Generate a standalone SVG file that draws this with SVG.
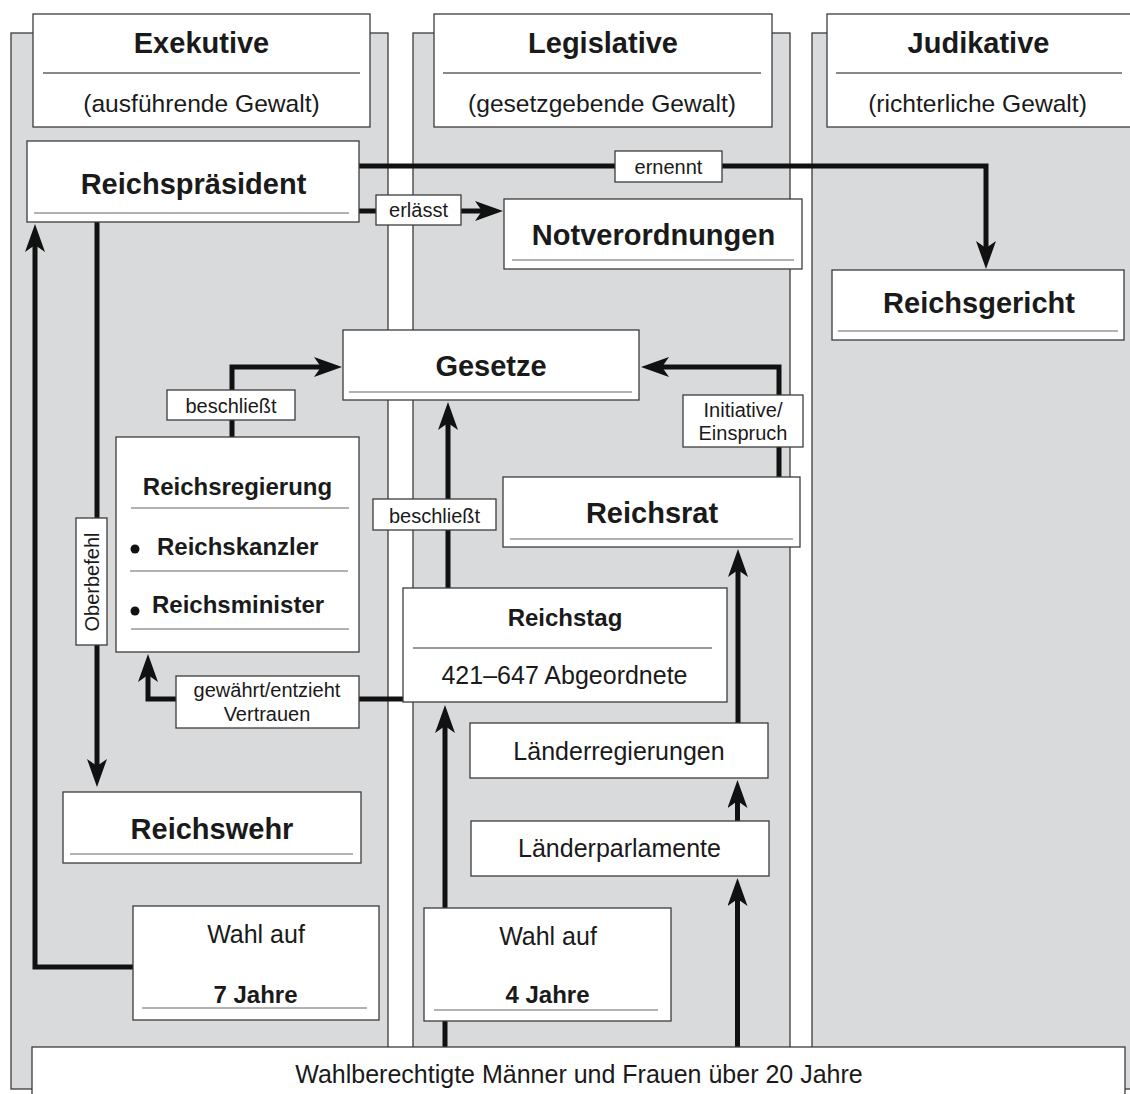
<svg xmlns="http://www.w3.org/2000/svg" width="1130" height="1094" viewBox="0 0 1130 1094">
<style>
.panel{fill:#d9dadc;stroke:#3c3c3c;stroke-width:1.3}
.box{fill:#fff;stroke:#3c3c3c;stroke-width:1.3}
.hl{stroke:#111;stroke-width:1}
.ul{stroke:#666;stroke-width:1.2}
.conn{fill:none;stroke:#111;stroke-width:5;stroke-linejoin:miter}
text{font-family:"Liberation Sans",Arial,sans-serif;fill:#1a1a1a}
.b29{font-size:29px;font-weight:bold;text-anchor:middle}
.b24{font-size:24px;font-weight:bold}
.r25{font-size:25px;text-anchor:middle}
.r24{font-size:24.6px;text-anchor:middle}
.s20{font-size:20px;text-anchor:middle}
.m{text-anchor:middle}
</style>
<defs>
<marker id="ah" viewBox="0 0 28 20" refX="7" refY="10" markerWidth="28" markerHeight="20" markerUnits="userSpaceOnUse" orient="auto">
<path d="M0,0 L28,10 L0,20 L7,10 Z" fill="#111"/>
</marker>
</defs>
<rect width="1130" height="1094" fill="#fff"/>
<g id="panels">
<rect class="panel" x="11" y="33" width="377" height="1056"/>
<rect class="panel" x="413" y="33" width="377" height="1056"/>
<rect class="panel" x="812" y="33" width="340" height="1056"/>
</g>
<g id="headers">
<g id="h-exekutive">
<rect class="box" x="33" y="14" width="337" height="113"/>
<line class="hl" x1="43" y1="73" x2="360" y2="73"/>
<text class="b29" x="201.5" y="53">Exekutive</text>
<text class="r24" x="201.5" y="112">(ausführende Gewalt)</text>
</g>
<g id="h-legislative">
<rect class="box" x="434" y="14" width="338" height="113"/>
<line class="hl" x1="443" y1="73" x2="761" y2="73"/>
<text class="b29" x="603" y="53">Legislative</text>
<text class="r24" x="602" y="112">(gesetzgebende Gewalt)</text>
</g>
<g id="h-judikative">
<rect class="box" x="827" y="14" width="310" height="113"/>
<line class="hl" x1="836" y1="73" x2="1122" y2="73"/>
<text class="b29" x="978.5" y="53">Judikative</text>
<text class="r24" x="977.5" y="112">(richterliche Gewalt)</text>
</g>
</g>
<g id="connectors">
<path class="conn" d="M359,166 H986 V248" marker-end="url(#ah)"/>
<path class="conn" d="M359,211 H482" marker-end="url(#ah)"/>
<path class="conn" d="M97,222 V766" marker-end="url(#ah)"/>
<path class="conn" d="M133,967 H35 V245" marker-end="url(#ah)"/>
<path class="conn" d="M232,437 V367 H321" marker-end="url(#ah)"/>
<path class="conn" d="M448,588 V423" marker-end="url(#ah)"/>
<path class="conn" d="M779,477 V367 H662" marker-end="url(#ah)"/>
<path class="conn" d="M403,699 H148 V675" marker-end="url(#ah)"/>
<path class="conn" d="M738,723 V570" marker-end="url(#ah)"/>
<path class="conn" d="M737.5,821 V801" marker-end="url(#ah)"/>
<path class="conn" d="M737.5,1047 V899" marker-end="url(#ah)"/>
<path class="conn" d="M445,1047 V726" marker-end="url(#ah)"/>
<g id="lbl-ernennt">
<rect class="box" x="615" y="151" width="107" height="31"/>
<text class="s20" x="668.5" y="174">ernennt</text>
</g>
<g id="lbl-erlaesst">
<rect class="box" x="376" y="195" width="85" height="30"/>
<text class="s20" x="418.5" y="217">erlässt</text>
</g>
<g id="lbl-oberbefehl">
<rect class="box" x="76" y="518" width="31" height="127"/>
<text class="s20" x="99" y="582" transform="rotate(-90 99 582)">Oberbefehl</text>
</g>
<g id="lbl-beschliesst1">
<rect class="box" x="167" y="390" width="128" height="30"/>
<text class="s20" x="231" y="413">beschließt</text>
</g>
<g id="lbl-beschliesst2">
<rect class="box" x="373" y="499" width="123" height="31"/>
<text class="s20" x="434.5" y="523">beschließt</text>
</g>
<g id="lbl-initiative">
<rect class="box" x="683" y="395" width="120" height="52"/>
<text class="s20" x="743" y="417">Initiative/</text>
<text class="s20" x="743" y="440">Einspruch</text>
</g>
<g id="lbl-vertrauen">
<rect class="box" x="176" y="676" width="183" height="52"/>
<text class="s20" x="267" y="697">gewährt/entzieht</text>
<text class="s20" x="267" y="721">Vertrauen</text>
</g>
</g>
<g id="reichspraesident">
<rect class="box" x="27" y="141" width="332" height="81"/>
<line class="ul" x1="34" y1="213" x2="349" y2="213"/>
<text class="b29" x="193.5" y="194">Reichspräsident</text>
</g>
<g id="notverordnungen">
<rect class="box" x="504" y="199" width="298" height="70"/>
<line class="ul" x1="512" y1="260" x2="794" y2="260"/>
<text class="b29" x="653.5" y="245">Notverordnungen</text>
</g>
<g id="reichsgericht">
<rect class="box" x="832" y="270" width="292" height="70"/>
<line class="ul" x1="838" y1="331" x2="1118" y2="331"/>
<text class="b29" x="979" y="313">Reichsgericht</text>
</g>
<g id="gesetze">
<rect class="box" x="343" y="330" width="296" height="70"/>
<line class="ul" x1="349" y1="392" x2="632" y2="392"/>
<text class="b29" x="491" y="376">Gesetze</text>
</g>
<g id="reichsregierung">
<rect class="box" x="116" y="437" width="243" height="215"/>
<text class="b24 m" x="237.5" y="495">Reichsregierung</text>
<line class="ul" x1="131" y1="508" x2="349" y2="508"/>
<circle cx="135" cy="549" r="4.5" fill="#111"/>
<text class="b24" x="157" y="555">Reichskanzler</text>
<line class="ul" x1="130" y1="571" x2="348" y2="571"/>
<circle cx="135" cy="611" r="4.5" fill="#111"/>
<text class="b24" x="152" y="613">Reichsminister</text>
<line class="ul" x1="131" y1="629" x2="349" y2="629"/>
</g>
<g id="reichsrat">
<rect class="box" x="503" y="477" width="297" height="70"/>
<line class="ul" x1="510" y1="539" x2="793" y2="539"/>
<text class="b29" x="652" y="523">Reichsrat</text>
</g>
<g id="reichstag">
<rect class="box" x="403" y="588" width="324" height="114"/>
<text class="b24 m" x="565" y="626">Reichstag</text>
<line class="ul" x1="413" y1="648" x2="712" y2="648" style="stroke:#333"/>
<text class="r25" x="564.5" y="684">421–647 Abgeordnete</text>
</g>
<g id="laenderregierungen">
<rect class="box" x="470" y="723" width="298" height="55"/>
<text class="r25" x="619" y="760">Länderregierungen</text>
</g>
<g id="laenderparlamente">
<rect class="box" x="471" y="821" width="298" height="55"/>
<text class="r25" x="619.5" y="857">Länderparlamente</text>
</g>
<g id="reichswehr">
<rect class="box" x="63" y="792" width="298" height="71"/>
<line class="ul" x1="70" y1="854" x2="353" y2="854"/>
<text class="b29" x="212" y="839">Reichswehr</text>
</g>
<g id="wahl7">
<rect class="box" x="133" y="906" width="246" height="114"/>
<text class="r25" x="256" y="943">Wahl auf</text>
<text class="b24 m" x="255.5" y="1003">7 Jahre</text>
<line class="ul" x1="142" y1="1008" x2="367" y2="1008"/>
</g>
<g id="wahl4">
<rect class="box" x="424" y="908" width="247" height="113"/>
<text class="r25" x="548" y="945">Wahl auf</text>
<text class="b24 m" x="547.5" y="1003">4 Jahre</text>
<line class="ul" x1="434" y1="1010" x2="658" y2="1010"/>
</g>
<g id="waehler">
<rect class="box" x="32" y="1047" width="1093" height="60"/>
<text class="r25" x="579" y="1083">Wahlberechtigte Männer und Frauen über 20 Jahre</text>
</g>
</svg>
